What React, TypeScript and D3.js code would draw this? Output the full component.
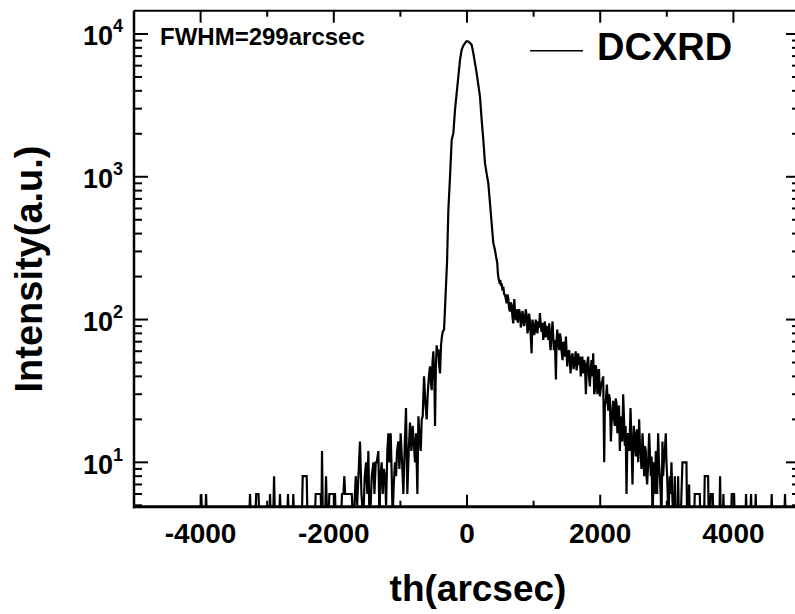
import React from "react";
import * as d3 from "d3";

// DCXRD rocking curve (arcsec vs counts); 4 = below the plot floor
const thetaArcsec = [
  -5000, -4000, -3990, -3975, -3930, -3918, -3905, -3270, -3258, -3245, -3180, -3165, -3130, -3118,
  -3000, -2990, -2968, -2958, -2945, -2910, -2897, -2884, -2820, -2808, -2795, -2700, -2688, -2675,
  -2620, -2608, -2595, -2480, -2467, -2407, -2395, -2285, -2272, -2197, -2185, -2177, -2165, -2130,
  -2117, -2100, -2080, -2067, -1982, -1970, -1890, -1877, -1855, -1842, -1830, -1730, -1715,
  -1700, -1670, -1650, -1630, -1607, -1585, -1557, -1535, -1515, -1497, -1481, -1468, -1455, -1430,
  -1405, -1390, -1370, -1355, -1331, -1315, -1300, -1281, -1265, -1250, -1231, -1215, -1196, -1181,
  -1165, -1146, -1130, -1116, -1100, -1081, -1065, -1050, -1031, -1015, -996, -975, -955, -935,
  -916, -896, -875, -856, -835, -816, -800, -781, -765, -745, -730, -712, -695, -680, -665, -645,
  -625, -605, -590, -580, -568, -555, -540, -530, -518, -505, -490, -480, -468, -455, -443, -430,
  -418, -405, -390, -378, -365, -345, -330, -315, -300, -280, -255, -230, -205, -180, -155, -130,
  -105, -80, -55, -30, -5, 20, 45, 70, 95, 120, 145, 170, 195, 220, 245, 270, 295, 320, 345, 370,
  395, 420, 445, 455, 462, 470, 478, 485, 492, 500, 510, 520, 532, 545, 558, 570, 582, 595, 608,
  620, 632, 645, 658, 670, 682, 695, 702, 710, 722, 735, 745, 755, 762, 770, 782, 795, 808, 820,
  832, 845, 858, 870, 882, 895, 908, 920, 932, 945, 958, 970, 982, 995, 1008, 1020, 1032, 1045,
  1058, 1070, 1082, 1095, 1108, 1120, 1132, 1145, 1158, 1170, 1182, 1195, 1208, 1220, 1235, 1245,
  1255, 1270, 1285, 1295, 1305, 1320, 1335, 1345, 1355, 1370, 1385, 1395, 1405, 1420, 1435, 1445,
  1455, 1470, 1485, 1495, 1505, 1520, 1535, 1545, 1555, 1570, 1585, 1600, 1620, 1632, 1645, 1658,
  1670, 1682, 1695, 1708, 1720, 1732, 1745, 1758, 1770, 1785, 1800, 1820, 1832, 1845, 1858, 1870,
  1882, 1895, 1910, 1920, 1932, 1945, 1958, 1970, 1982, 1995, 2015, 2035, 2045, 2060, 2070, 2085,
  2100, 2120, 2132, 2145, 2160, 2178, 2195, 2208, 2220, 2232, 2245, 2258, 2270, 2282, 2295, 2308,
  2320, 2332, 2345, 2358, 2370, 2382, 2395, 2408, 2420, 2438, 2455, 2470, 2485, 2495, 2505, 2520,
  2535, 2545, 2555, 2570, 2585, 2595, 2605, 2620, 2635, 2648, 2660, 2672, 2685, 2695, 2705, 2720,
  2735, 2748, 2760, 2772, 2785, 2795, 2805, 2820, 2835, 2845, 2855, 2862, 2870, 2882, 2895, 2908,
  2920, 2935, 2945, 2955, 2970, 2985, 2995, 3005, 3025, 3035, 3045, 3058, 3070, 3082, 3095, 3108,
  3120, 3132, 3160, 3170, 3182, 3210, 3220, 3235, 3295, 3305, 3325, 3335, 3345, 3410, 3420, 3495,
  3505, 3560, 3570, 3620, 3630, 3650, 3660, 3690, 3700, 3790, 3800, 3810, 3840, 3850, 3860, 3965,
  3975, 4010, 4020, 4180, 4190, 4200, 4255, 4265, 4275, 4325, 4335, 4345, 4565, 4575, 4585, 4765,
  4775, 4785, 5000,
];
const intensityCounts = [
  4, 4, 6, 4, 4, 6, 4, 4, 6, 4, 4, 6, 6, 4,
  4, 5, 4, 6, 4, 4, 8, 4, 4, 6, 4, 4, 6, 4,
  4, 6, 4, 4, 8, 8, 4, 4, 6, 6, 4, 12, 4, 4,
  8, 4, 4, 6, 6, 4, 4, 6, 6, 8, 6, 6, 4,
  4, 8, 5, 8, 14, 6, 4, 8, 10, 6, 12, 5, 4, 8,
  10, 6, 10, 10, 12, 4, 8, 10, 6, 9, 8, 5, 12, 16,
  10, 16, 8, 4, 7, 10, 8, 12, 14, 9, 16, 10, 6, 13,
  24, 6, 12, 19, 12, 18, 14, 10, 16, 6, 21, 15, 12, 20, 21, 40,
  26, 20, 30, 35, 42, 47, 36, 32, 50, 60, 38, 18, 45, 66, 55, 62,
  48, 42, 66, 75, 82, 85, 120, 175, 250, 586, 1003, 1815, 2018, 2942, 3855, 5036,
  6590, 7744, 8300, 8630, 8900, 8850, 8650, 8400, 7340, 6250, 5320, 4400, 3650, 2505, 1815, 1245, 1050, 902, 653, 473,
  343, 307, 262, 248, 215, 200, 190, 184, 178, 190, 172, 179, 160, 170, 150, 149, 140, 130, 150,
  141, 120, 114, 132, 126, 105, 94, 120, 139, 110, 99, 118, 112, 95, 102, 118, 110, 88, 94,
  115, 105, 90, 100, 118, 108, 80, 87, 110, 97, 75, 58, 100, 92, 78, 82, 100, 92,
  80, 97, 88, 111, 90, 82, 95, 72, 85, 97, 75, 85, 90, 72, 94, 70,
  61, 80, 97, 75, 61, 72, 38, 70, 85, 68, 61, 80, 76, 60, 52, 70,
  65, 55, 76, 60, 47, 58, 61, 50, 42, 55, 58, 45, 52, 60, 44, 50,
  58, 48, 55, 40, 47, 55, 42, 52, 49, 30, 48, 55, 40, 34, 45, 52,
  40, 58, 30, 32, 48, 44, 30, 38, 45, 29, 35, 38, 40, 10, 25, 27,
  35, 23, 30, 28, 14, 22, 27, 20, 18, 28, 26, 16, 21, 25, 12, 18,
  21, 14, 30, 20, 13, 18, 6, 14, 16, 12, 24, 14, 7, 12, 18, 14,
  11, 16, 17, 10, 20, 14, 12, 9, 16, 12, 8, 13, 12, 8, 7, 10,
  16, 11, 8, 11, 4, 6, 10, 6, 12, 8, 6, 10, 16, 10, 8, 6,
  4, 14, 8, 10, 12, 16, 10, 8, 4, 6, 8, 6, 10, 6, 4, 4,
  8, 4, 4, 8, 4, 4, 6, 10, 10, 4, 4, 7, 4, 4, 6, 6,
  4, 4, 8, 8, 4, 4, 6, 6, 4, 4, 8, 4, 4, 6, 4, 4,
  6, 6, 4, 4, 6, 4, 4, 6, 4, 4, 6, 4, 4, 6, 4, 4,
  6, 4, 4,
];

const xMajorTicks = [-4000, -2000, 0, 2000, 4000];
const xMinorTicks = [-5000, -3000, -1000, 1000, 3000, 5000];
const yDecades = [1, 2, 3, 4];

const W = 795;
const H = 614;
const L = 134, R = 800, T = 10.7, B = 506.7;
const FONT = "'Liberation Sans', Arial, Helvetica, sans-serif";

const App = () => {
  const x = d3.scaleLinear().domain([-5000, 5000]).range([L, R]);
  const y = d3.scaleLog().domain([4.89, 14560]).range([B, T]);

  const points = thetaArcsec.map((t, i) => [t, intensityCounts[i]] as [number, number]);
  const line = d3.line<[number, number]>()
    .x(d => x(d[0]))
    .y(d => y(d[1]));

  // log minor ticks 2..9 in each decade that fits in the domain
  const yMinor: number[] = [];
  for (let e = 0; e <= 4; e++) {
    for (let m = 2; m <= 9; m++) {
      const v = m * Math.pow(10, e);
      if (v > 4.89 && v < 14560) yMinor.push(v);
    }
  }

  return (
    <svg width={W} height={H} style={{position: "absolute", left: 0, top: 0, background: "#fff"}}
         fontFamily={FONT} fontWeight="bold">
      <defs>
        <clipPath id="plotClip">
          <rect x={L} y={T} width={R - L} height={B - T}/>
        </clipPath>
      </defs>

      <g clipPath="url(#plotClip)">
        <path d={line(points) || ""} fill="none" stroke="#000" strokeWidth={2.2} strokeLinejoin="miter"/>
      </g>

      {/* frame */}
      <line x1={L} x2={L} y1={T} y2={B + 1.5} stroke="#000" strokeWidth={2.5}/>
      <line x1={L - 1} x2={R} y1={B} y2={B} stroke="#000" strokeWidth={3}/>
      <line x1={L} x2={R} y1={T} y2={T} stroke="#000" strokeWidth={2}/>
      <line x1={R} x2={R} y1={T} y2={B} stroke="#000" strokeWidth={2}/>

      {/* x ticks, bottom and top */}
      {xMajorTicks.map(v => (
        <g key={"xM" + v}>
          <line x1={x(v)} x2={x(v)} y1={B} y2={B - 12} stroke="#000" strokeWidth={2}/>
          <line x1={x(v)} x2={x(v)} y1={T} y2={T + 12} stroke="#000" strokeWidth={2}/>
          <text x={x(v)} y={543} textAnchor="middle" fontSize={28}>{v}</text>
        </g>
      ))}
      {xMinorTicks.map(v => (
        <g key={"xm" + v}>
          <line x1={x(v)} x2={x(v)} y1={B} y2={B - 6} stroke="#000" strokeWidth={2}/>
          <line x1={x(v)} x2={x(v)} y1={T} y2={T + 6} stroke="#000" strokeWidth={2}/>
        </g>
      ))}

      {/* y ticks, left and right */}
      {yDecades.map(e => {
        const py = y(Math.pow(10, e));
        return (
          <g key={"yM" + e}>
            <line x1={L} x2={L + 14} y1={py} y2={py} stroke="#000" strokeWidth={2}/>
            <line x1={R} x2={R - 14} y1={py} y2={py} stroke="#000" strokeWidth={2}/>
            <text x={123} y={py + 11.5} textAnchor="end" fontSize={27}>
              10<tspan dy={-13} fontSize={18}>{e}</tspan>
            </text>
          </g>
        );
      })}
      {yMinor.map(v => (
        <g key={"ym" + v}>
          <line x1={L} x2={L + 8} y1={y(v)} y2={y(v)} stroke="#000" strokeWidth={2}/>
          <line x1={R} x2={R - 8} y1={y(v)} y2={y(v)} stroke="#000" strokeWidth={2}/>
        </g>
      ))}

      {/* annotations */}
      <text x={160} y={45} fontSize={24}>FWHM=299arcsec</text>
      <line x1={530} x2={583} y1={50.7} y2={50.7} stroke="#000" strokeWidth={1.5}/>
      <text x={597} y={60} fontSize={38}>DCXRD</text>

      {/* axis titles */}
      <text x={478} y={601} textAnchor="middle" fontSize={37}>th(arcsec)</text>
      <text transform="translate(42,269) rotate(-90)" textAnchor="middle" fontSize={38}>Intensity(a.u.)</text>
    </svg>
  );
};

export default App;
